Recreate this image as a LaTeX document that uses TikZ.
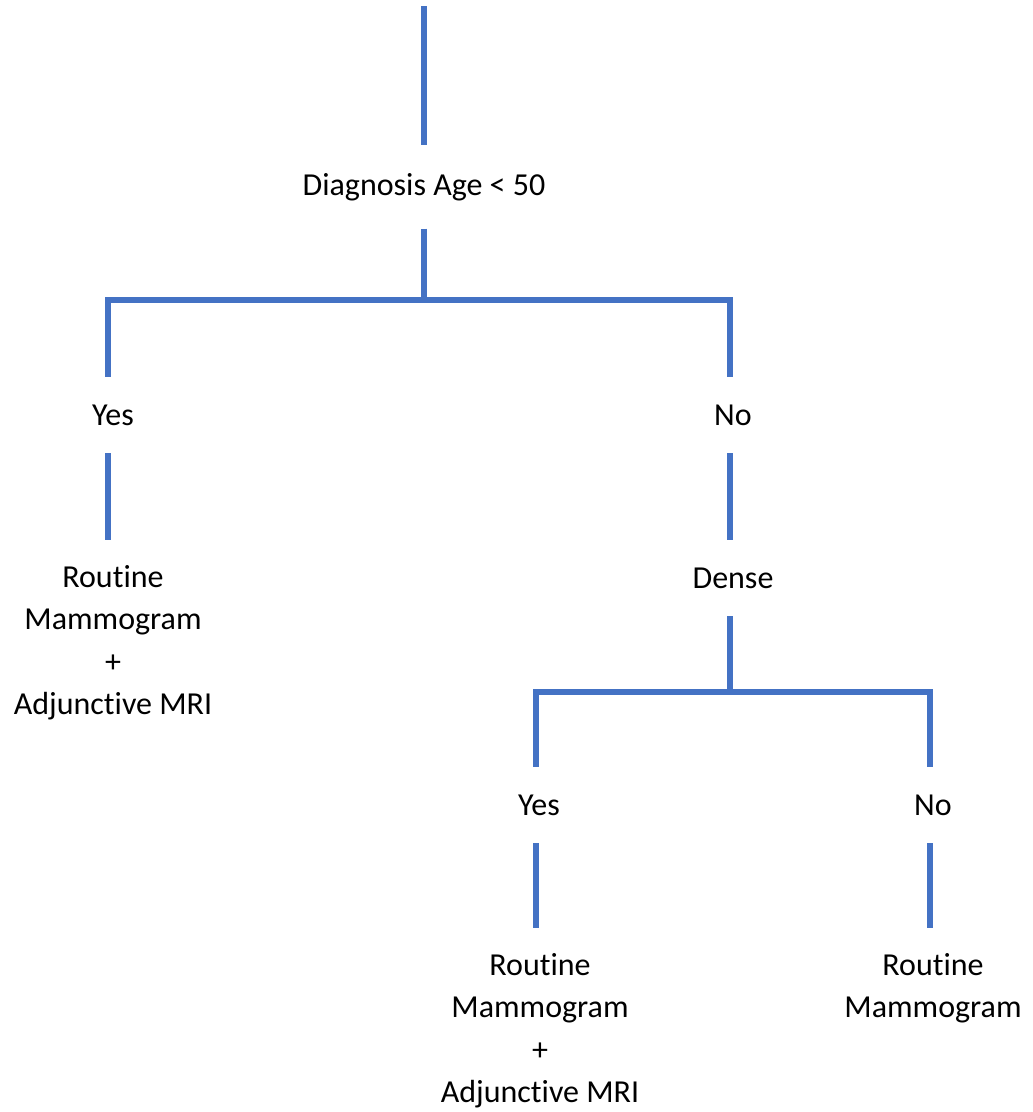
\documentclass[tikz,border=0pt]{standalone}
\usepackage{fontspec}
\setmainfont{Carlito}[Ligatures={NoCommon}]
\definecolor{linkblue}{HTML}{4472C4}
\begin{document}
\begin{tikzpicture}[x=1pt,y=-1pt,
  conn/.style={draw=linkblue,line width=6pt,line cap=butt,line join=miter},
  label/.style={inner sep=0pt,minimum height=76pt,font=\fontsize{32}{42.5}\selectfont},
  leaf/.style={anchor=north,inner xsep=0pt,inner ysep=25pt,align=center,font=\fontsize{32}{42.5}\selectfont}]
\useasboundingbox (0,0) rectangle (1033,1112);
\coordinate (top) at (424,6);
\node[label,minimum height=83pt] (diag) at (424,187) {Diagnosis Age < 50};
\coordinate (split1) at (424,300);
\node[label] (yes1) at (113,415) {Yes};
\node[label] (no1) at (733,415) {No};
\node[leaf] (leaf1) at (113,540) {Routine\\Mammogram\\+\\Adjunctive MRI};
\node[label] (dense) at (733,578) {Dense};
\coordinate (split2) at (730,692);
\node[label] (yes2) at (539,805) {Yes};
\node[label] (no2) at (933,805) {No};
\node[leaf] (leaf2) at (540,928) {Routine\\Mammogram\\+\\Adjunctive MRI};
\node[leaf] (leaf3) at (933,928) {Routine\\Mammogram};
\draw[conn] (top) -- (diag.north);
\draw[conn] (diag.south) -- (split1);
\draw[conn] ([xshift=-5pt]yes1.north) |- (split1) -| ([xshift=-3pt]no1.north);
\draw[conn] ([xshift=-5pt]yes1.south) -- ([xshift=-5pt]leaf1.north);
\draw[conn] ([xshift=-3pt]no1.south) -- ([xshift=-3pt]dense.north);
\draw[conn] ([xshift=-3pt]dense.south) -- (split2);
\draw[conn] ([xshift=-3pt]yes2.north) |- (split2) -| ([xshift=-3pt]no2.north);
\draw[conn] ([xshift=-3pt]yes2.south) -- ([xshift=-4pt]leaf2.north);
\draw[conn] ([xshift=-3pt]no2.south) -- ([xshift=-3pt]leaf3.north);
\end{tikzpicture}
\end{document}
